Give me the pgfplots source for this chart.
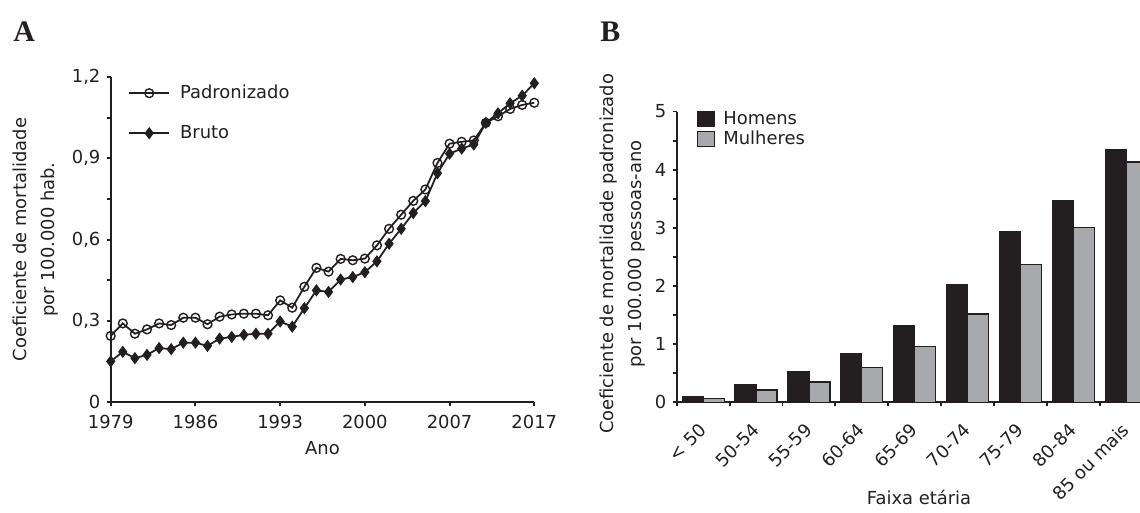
\documentclass[border=0pt]{standalone}
\usepackage{fontspec}
\setmainfont{DejaVu Sans}
\newfontfamily\letterfont{Liberation Serif}
\usepackage{pgfplots}
\pgfplotsset{compat=1.18}

\definecolor{ink}{HTML}{231F20}
\definecolor{greybar}{HTML}{A7A9AC}

% rates per 100.000
\pgfplotstableread{
ano   padr   bruto
1979  0.245  0.151
1980  0.291  0.186
1981  0.253  0.163
1982  0.269  0.175
1983  0.291  0.200
1984  0.285  0.196
1985  0.312  0.220
1986  0.312  0.220
1987  0.288  0.208
1988  0.316  0.235
1989  0.324  0.241
1990  0.327  0.249
1991  0.327  0.253
1992  0.321  0.253
1993  0.376  0.298
1994  0.349  0.279
1995  0.426  0.347
1996  0.496  0.413
1997  0.482  0.407
1998  0.529  0.453
1999  0.524  0.462
2000  0.530  0.480
2001  0.579  0.520
2002  0.640  0.585
2003  0.692  0.640
2004  0.743  0.698
2005  0.785  0.742
2006  0.883  0.845
2007  0.954  0.917
2008  0.961  0.936
2009  0.966  0.951
2010  1.031  1.031
2011  1.055  1.066
2012  1.082  1.103
2013  1.097  1.131
2014  1.105  1.177
}\serie

\pgfplotsset{
  base/.style={
    scale only axis, anchor=south west,
    axis lines*=left,
    axis line style={ink, line width=1.3pt},
    tick align=outside, tick pos=left,
    major tick length=0.08cm, minor tick length=0.08cm,
    tick style={ink, line width=1.1pt},
    ticklabel style={text=ink},
    label style={text=ink},
    scaled ticks=false,
  },
}

\begin{document}
\fontsize{10.2}{12.3}\selectfont
\begin{tikzpicture}
\useasboundingbox (0,0) rectangle (22.8cm,10.24cm);
\clip (0,0) rectangle (22.8cm,10.24cm);

\node[anchor=base west, inner sep=0, text=ink] at (0.26cm,9.4cm) {\letterfont\bfseries\fontsize{17}{20}\selectfont A};
\node[anchor=base west, inner sep=0, text=ink] at (12.0cm,9.4cm) {\letterfont\bfseries\fontsize{17}{20}\selectfont B};

% ---- A ----
\begin{axis}[
  base,
  at={(2.214cm,2.194cm)},
  width=8.472cm, height=6.506cm,
  xmin=1979, xmax=2014, ymin=0, ymax=1.2,
  clip=false,
  xtick={1979,1986,1993,2000,2007,2014},
  xticklabels={1979,1986,1993,2000,2007,2017},
  xticklabel style={yshift=-0.06cm},
  ytick={0,0.3,0.6,0.9,1.2},
  yticklabels={0,{0,3},{0,6},{0,9},{1,2}},
  minor ytick={0.15,0.45,0.75,1.05},
  xlabel={Ano},
  xlabel style={at={(axis description cs:0.5,-0.1405)}, anchor=center},
  ylabel={Coeficiente de mortalidade\\por 100.000 hab.},
  ylabel style={at={(axis description cs:-0.178,0.5)}, anchor=center, align=center,
    font=\fontsize{10.2}{15.9}\selectfont},
  legend image code/.code={
    \draw[mark repeat=2, mark phase=2, #1] plot coordinates {(0cm,0cm) (0.4cm,0cm) (0.8cm,0cm)};},
  legend style={at={(rel axis cs:0.0408,0.982)}, anchor=north west,
    draw=none, fill=none, inner sep=0pt, text=ink,
    row sep=0.4cm, column sep=0.2cm,
    nodes={inner sep=0pt, minimum height=0.4cm}},
  legend cell align=left,
]
\addplot[ink, line width=1pt, mark=o, mark size=2.5pt,
  mark options={fill=white, line width=0.8pt}] table[x=ano, y=padr] {\serie};
\addlegendentry{Padronizado}
\addplot[ink, line width=1pt, mark=diamond*, mark size=2.7pt,
  mark options={fill=ink}] table[x=ano, y=bruto] {\serie};
\addlegendentry{Bruto}
\end{axis}

% ---- B ----
\begin{axis}[
  base,
  at={(13.534cm,2.194cm)},
  width=9.522cm, height=5.816cm,
  ybar=0pt, bar width=0.42cm,
  xmin=0.5, xmax=9.5, ymin=0, ymax=5,
  xtick={1,...,9},
  xticklabels={{< 50},50-54,55-59,60-64,65-69,70-74,75-79,80-84,85 ou mais},
  major x tick style={draw=none},
  minor xtick={0.5,1.5,...,9.5},
  xticklabel style={xshift=0.08cm, yshift=-0.32cm, rotate=45, anchor=east},
  ytick={0,1,2,3,4,5},
  yticklabels={0,1,2,3,4,5},
  minor ytick={0.5,1.5,2.5,3.5,4.5},
  xlabel={Faixa etária},
  xlabel style={at={(axis description cs:0.509,-0.3257)}, anchor=center},
  ylabel={Coeficiente de mortalidade padronizado\\por 100.000 pessoas-ano},
  ylabel style={at={(axis description cs:-0.1128,0.51)}, anchor=center, align=center,
    font=\fontsize{10.2}{15.9}\selectfont},
  every axis plot post/.append style={
    legend image code/.code={\draw[#1] (0cm,-0.15cm) rectangle (0.332cm,0.15cm);}},
  legend style={at={(rel axis cs:0.042,1.0086)}, anchor=north west,
    draw=none, fill=none, inner sep=0pt, text=ink,
    row sep=0pt, column sep=0.17cm,
    nodes={inner sep=0pt, minimum height=0.4cm}},
  legend cell align=left,
]
\addplot[fill=ink, draw=ink, line width=0.7pt] coordinates {
  (1,0.09) (2,0.31) (3,0.52) (4,0.84) (5,1.32) (6,2.02) (7,2.93) (8,3.47) (9,4.34)};
\addlegendentry{Homens}
\addplot[fill=greybar, draw=ink, line width=0.7pt] coordinates {
  (1,0.06) (2,0.21) (3,0.35) (4,0.60) (5,0.96) (6,1.52) (7,2.37) (8,3.00) (9,4.13)};
\addlegendentry{Mulheres}
\end{axis}
\end{tikzpicture}
\end{document}
